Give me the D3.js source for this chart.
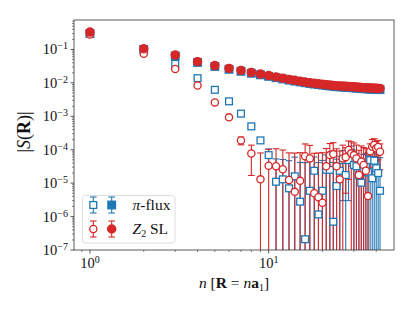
<!DOCTYPE html>
<html>
<head>
<meta charset="utf-8">
<script src="https://cdn.jsdelivr.net/npm/d3@7"></script>
<style>
body { margin: 0; background: #fff; }
text { font-family: "Liberation Serif", "DejaVu Serif", serif; fill: #111; }
</style>
</head>
<body>
<div id="chart"></div>
<script>
// separation n, R = n a1
var nVals = [1,2,3,4,5,6,7,8,9,10,11,12,13,14,15,16,17,18,19,20,21,22,23,24,25,26,27,28,29,30,31,32,33,34,35,36,37,38,39,40,41,42];

// pi-flux, filled squares
var piFull = [0.30,0.100,0.064,0.041,0.031,0.0255,0.0222,0.0194,0.0174,0.0157,0.0143,0.0131,0.0121,0.0113,0.0107,0.0101,0.0096,0.0092,0.0089,0.0086,0.0083,0.0081,0.0079,0.0077,0.0076,0.0075,0.0074,0.0073,0.0072,0.0071,0.0070,0.0069,0.0068,0.0067,0.0067,0.0066,0.0065,0.0065,0.0064,0.0064,0.0063,0.0063];
// Z2 SL, filled circles
var z2Full = [0.33,0.105,0.068,0.043,0.033,0.027,0.0235,0.0205,0.0183,0.0165,0.0150,0.0138,0.0127,0.0119,0.0112,0.0106,0.0101,0.0097,0.0094,0.0091,0.0088,0.0086,0.0084,0.0082,0.0081,0.0080,0.0079,0.0078,0.0077,0.0076,0.0075,0.0074,0.0073,0.0072,0.0072,0.0071,0.0070,0.0070,0.0069,0.0069,0.0068,0.0068];

// pi-flux, open squares + errors
var piOpen = [0.30,0.10,0.037,0.0138,0.0062,0.0028,0.0012,5.0e-4,1.9e-4,6.9e-5,1.1e-5,1.3e-5,7.0e-6,1.6e-5,2.8e-6,2.1e-7,5.9e-6,2.35e-5,1.16e-6,5.9e-6,2.5e-5,2.5e-5,7.0e-7,8.2e-6,2.35e-5,4.9e-5,1.75e-5,4.9e-5,8.0e-5,3.5e-5,3.2e-5,1.7e-5,1.03e-5,2.5e-5,3.5e-5,2.1e-5,4.9e-5,1.4e-5,4.7e-5,2.8e-5,2.0e-5,5.9e-6];
var piOpenErr = [0.003,0.002,8e-4,4e-4,2e-4,1e-4,6e-5,4e-5,3e-5,3.6e-5,4.2e-5,3.8e-5,4.0e-5,4.4e-5,3.9e-5,4.1e-5,4.3e-5,3.7e-5,4.0e-5,4.2e-5,4.5e-5,3.9e-5,4.1e-5,4.4e-5,4.0e-5,4.6e-5,4.2e-5,4.6e-5,4.8e-5,4.3e-5,4.5e-5,4.1e-5,4.4e-5,4.7e-5,4.2e-5,4.5e-5,5.3e-5,4.6e-5,5.5e-5,5.1e-5,5.4e-5,5.2e-5];

// Z2 SL, open circles + errors
var z2Open = [0.28,0.074,0.026,0.0083,0.0026,9.3e-4,1.9e-4,7.7e-5,1.3e-5,3.3e-5,3.2e-5,2.6e-5,1.24e-5,5.5e-6,1.17e-5,6.4e-5,5.5e-5,5.0e-6,3.8e-6,2.6e-6,3.2e-5,6.9e-5,7.4e-5,3.2e-5,1.3e-5,5.5e-5,6.0e-5,9.8e-5,7.8e-5,6.9e-5,5.5e-5,1.75e-5,4.4e-5,3.5e-5,2.35e-5,4.1e-6,9.0e-5,1.23e-4,1.38e-4,1.1e-4,1.2e-4,8.7e-5];
var z2OpenErr = [0.004,0.002,8e-4,3e-4,1.2e-4,8e-5,5e-5,6e-5,6.7e-5,7.0e-5,7.5e-5,7.2e-5,6.8e-5,7.4e-5,7.0e-5,8.5e-5,8.0e-5,7.3e-5,7.6e-5,7.9e-5,7.7e-5,8.4e-5,8.8e-5,7.5e-5,7.8e-5,8.2e-5,5.5e-5,8.5e-5,9.5e-5,9.0e-5,8.3e-5,7.9e-5,8.6e-5,8.1e-5,8.4e-5,7.8e-5,6.0e-5,8.0e-5,7.5e-5,6.5e-5,7.0e-5,6.2e-5];

var xMajor = [1, 10];
var xMinor = [0.9,2,3,4,5,6,7,8,9,20,30,40];
var yExps = [-7,-6,-5,-4,-3,-2,-1];

var blue = "#1f77b4", red = "#d62728";

var W = 415, H = 312;
var pL = 74, pR = 394, pT = 20, pB = 250;

var x = d3.scaleLog().domain([0.814, 50.3]).range([pL, pR]);
var y = d3.scaleLog().domain([1e-7, 0.76]).range([pB, pT]);

var svg = d3.select("#chart").append("svg")
    .attr("width", W).attr("height", H);

svg.append("clipPath").attr("id", "clip")
  .append("rect").attr("x", pL).attr("y", pT)
  .attr("width", pR - pL).attr("height", pB - pT);

var plot = svg.append("g").attr("clip-path", "url(#clip)");

function rows(vals, errs) {
  return nVals.map(function(n, i) { return {n: n, v: vals[i], e: errs ? errs[i] : 0}; });
}

function bars(data, color) {
  var g = plot.append("g").attr("stroke", color).attr("stroke-width", 1.1);
  var cw = 3.3;
  data.forEach(function(d) {
    var cx = x(d.n);
    var yTop = y(d.v + d.e);
    var lo = d.v - d.e;
    var yBot = lo > 0 ? y(lo) : pB + 10;
    g.append("line").attr("x1", cx).attr("x2", cx).attr("y1", yTop).attr("y2", yBot);
    g.append("line").attr("x1", cx - cw).attr("x2", cx + cw).attr("y1", yTop).attr("y2", yTop);
    if (lo > 0) g.append("line").attr("x1", cx - cw).attr("x2", cx + cw).attr("y1", yBot).attr("y2", yBot);
  });
}

function squares(data, color, filled, s) {
  plot.append("g").selectAll("rect").data(data).enter().append("rect")
    .attr("x", function(d) { return x(d.n) - s / 2; })
    .attr("y", function(d) { return y(d.v) - s / 2; })
    .attr("width", s).attr("height", s)
    .attr("fill", filled ? color : "#fff")
    .attr("stroke", color).attr("stroke-width", 1.3);
}

function circles(data, color, filled, r) {
  plot.append("g").selectAll("circle").data(data).enter().append("circle")
    .attr("cx", function(d) { return x(d.n); })
    .attr("cy", function(d) { return y(d.v); })
    .attr("r", r)
    .attr("fill", filled ? color : "#fff")
    .attr("stroke", color).attr("stroke-width", 1.3);
}

var piO = rows(piOpen, piOpenErr), z2O = rows(z2Open, z2OpenErr);
bars(piO, blue);
bars(z2O, red);
squares(piO, blue, false, 6.8);
squares(rows(piFull), blue, true, 7.6);
circles(z2O, red, false, 3.6);
circles(rows(z2Full), red, true, 4.1);

// axes
var axisCol = "#333";
var xAxis = svg.append("g");
xAxis.selectAll("line.maj").data(xMajor).enter().append("line")
  .attr("x1", function(d) { return x(d); }).attr("x2", function(d) { return x(d); })
  .attr("y1", pB).attr("y2", pB + 3.5).attr("stroke", axisCol).attr("stroke-width", 0.8);
xAxis.selectAll("line.min").data(xMinor).enter().append("line")
  .attr("x1", function(d) { return x(d); }).attr("x2", function(d) { return x(d); })
  .attr("y1", pB).attr("y2", pB + 2).attr("stroke", axisCol).attr("stroke-width", 0.6);
xAxis.selectAll("text").data(xMajor).enter().append("text")
  .attr("x", function(d) { return x(d); }).attr("y", pB + 18)
  .attr("text-anchor", "middle").style("font-size", "14.5px")
  .each(function(d) {
    var t = d3.select(this);
    t.append("tspan").text("10");
    t.append("tspan").attr("dy", -5).style("font-size", "10px").text(Math.round(Math.log10(d)));
  });

var yAxis = svg.append("g");
var yMinor = [];
yExps.forEach(function(e) {
  for (var k = 2; k <= 9; k++) {
    var v = k * Math.pow(10, e);
    if (v < 0.76) yMinor.push(v);
  }
});
yAxis.selectAll("line.maj").data(yExps).enter().append("line")
  .attr("x1", pL - 3.5).attr("x2", pL)
  .attr("y1", function(e) { return y(Math.pow(10, e)); }).attr("y2", function(e) { return y(Math.pow(10, e)); })
  .attr("stroke", axisCol).attr("stroke-width", 0.8);
yAxis.selectAll("line.min").data(yMinor).enter().append("line")
  .attr("x1", pL - 2).attr("x2", pL)
  .attr("y1", function(v) { return y(v); }).attr("y2", function(v) { return y(v); })
  .attr("stroke", axisCol).attr("stroke-width", 0.6);
yAxis.selectAll("text").data(yExps).enter().append("text")
  .attr("x", pL - 6).attr("y", function(e) { return y(Math.pow(10, e)) + 5; })
  .attr("text-anchor", "end").style("font-size", "14.5px")
  .each(function(e) {
    var t = d3.select(this);
    t.append("tspan").text("10");
    t.append("tspan").attr("dy", -5).style("font-size", "10px").text("\u2212" + (-e));
  });

// frame
svg.append("rect").attr("x", pL).attr("y", pT)
  .attr("width", pR - pL).attr("height", pB - pT)
  .attr("fill", "none").attr("stroke", axisCol).attr("stroke-width", 0.8);

// axis labels
var xl = svg.append("text").attr("x", (pL + pR) / 2).attr("y", 288)
  .attr("text-anchor", "middle").style("font-size", "15.5px");
xl.append("tspan").style("font-style", "italic").text("n");
xl.append("tspan").text(" [");
xl.append("tspan").style("font-weight", "bold").text("R");
xl.append("tspan").text(" = ");
xl.append("tspan").style("font-style", "italic").text("n");
xl.append("tspan").style("font-weight", "bold").text("a");
xl.append("tspan").attr("dy", 3).style("font-size", "10px").text("1");
xl.append("tspan").attr("dy", -3).text("]");

var yl = svg.append("text").attr("transform", "translate(30," + ((pT + pB) / 2 - 3) + ") rotate(-90)")
  .attr("text-anchor", "middle").style("font-size", "18px");
yl.append("tspan").text("|");
yl.append("tspan").style("font-style", "italic").text("S");
yl.append("tspan").text("(");
yl.append("tspan").style("font-weight", "bold").text("R");
yl.append("tspan").text(")|");

// legend
var lg = svg.append("g");
lg.append("rect").attr("x", 82.5).attr("y", 195.5).attr("width", 92.5).attr("height", 47.5)
  .attr("rx", 3).attr("fill", "#fff").attr("fill-opacity", 0.8)
  .attr("stroke", "#d5d5d5").attr("stroke-width", 0.8);

var legendRows = [
  {label: "flux", pre: "\u03c0", color: blue, shape: "square", cy: 205},
  {label: " SL", pre: "Z", color: red, shape: "circle", cy: 229}
];
legendRows.forEach(function(r) {
  [93.3, 111.7].forEach(function(cx, j) {
    lg.append("line").attr("x1", cx).attr("x2", cx).attr("y1", r.cy - 8).attr("y2", r.cy + 8)
      .attr("stroke", r.color).attr("stroke-width", 1.1);
    [r.cy - 8, r.cy + 8].forEach(function(yy) {
      lg.append("line").attr("x1", cx - 3.3).attr("x2", cx + 3.3).attr("y1", yy).attr("y2", yy)
        .attr("stroke", r.color).attr("stroke-width", 1.1);
    });
    var fill = j === 1 ? r.color : "#fff";
    if (r.shape === "square") {
      var s = j === 1 ? 7.6 : 6.8;
      lg.append("rect").attr("x", cx - s / 2).attr("y", r.cy - s / 2).attr("width", s).attr("height", s)
        .attr("fill", fill).attr("stroke", r.color).attr("stroke-width", 1.3);
    } else {
      lg.append("circle").attr("cx", cx).attr("cy", r.cy).attr("r", j === 1 ? 4.1 : 3.6)
        .attr("fill", fill).attr("stroke", r.color).attr("stroke-width", 1.3);
    }
  });
  var t = lg.append("text").attr("x", 132.5).attr("y", r.cy + 5).style("font-size", "15.5px");
  t.append("tspan").style("font-style", "italic").text(r.pre);
  if (r.shape === "square") {
    t.append("tspan").text("-" + r.label);
  } else {
    t.append("tspan").attr("dy", 3).style("font-size", "10px").text("2");
    t.append("tspan").attr("dy", -3).text(r.label);
  }
});
</script>
</body>
</html>
